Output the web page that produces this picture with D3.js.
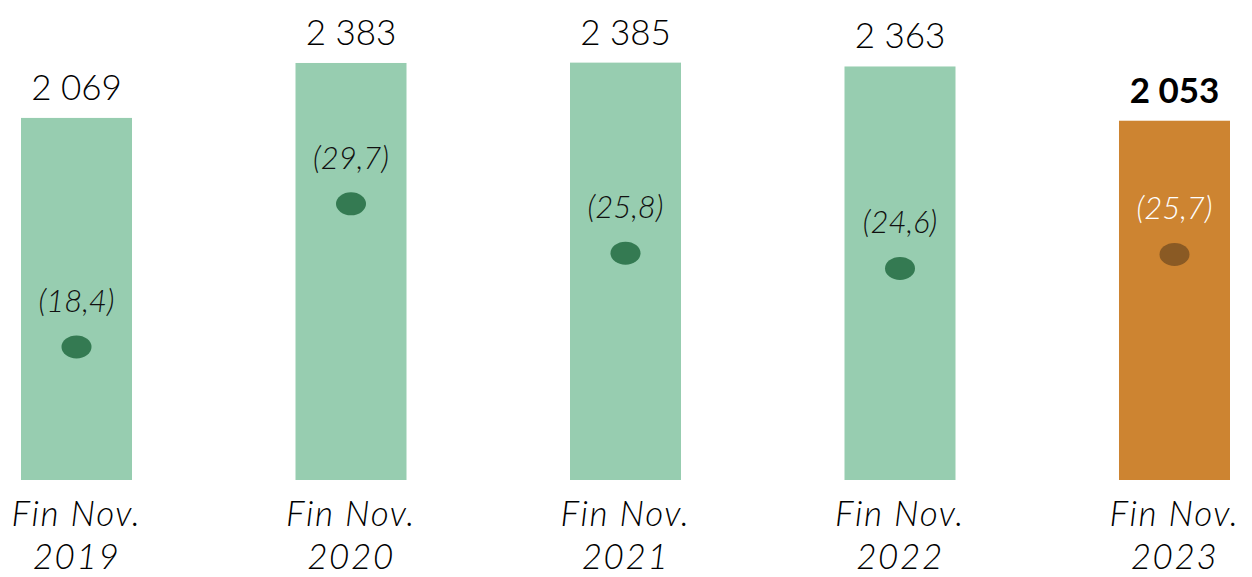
<!DOCTYPE html>
<html>
<head>
<meta charset="utf-8">
<script src="https://cdn.jsdelivr.net/npm/d3@7"></script>
<style>
  body { margin: 0; background: #fff; }
  text { font-family: "Lato", "Open Sans", sans-serif; }
</style>
</head>
<body>
<div id="chart"></div>
<script>
(function(){
    // values
    const periods = ["Fin Nov.|2019", "Fin Nov.|2020", "Fin Nov.|2021", "Fin Nov.|2022", "Fin Nov.|2023"];
    const totals = [2069, 2383, 2385, 2363, 2053];
    const ratios = [18.4, 29.7, 25.8, 24.6, 25.7];
    const totalLabels = ["2 069", "2 383", "2 385", "2 363", "2 053"];
    const ratioLabels = ["(18,4)", "(29,7)", "(25,8)", "(24,6)", "(25,7)"];

    const width = 1252, height = 577;
    const base = 480;

    const svg = d3.select("#chart").append("svg")
        .attr("width", width)
        .attr("height", height);

    // band scale for the five periods
    const x = d3.scaleBand()
        .domain(periods)
        .range([21, 1230])
        .paddingInner(0.5956)
        .paddingOuter(0);

    // bar heights
    const y = d3.scaleLinear()
        .domain([0, 2400])
        .range([base, base - 420]);

    // dots for the ratio
    const y2 = d3.scaleLinear()
        .domain([15, 30])
        .range([390, 200]);

    const last = periods.length - 1;
    const cx = d => x(d) + x.bandwidth() / 2;

    const g = svg.selectAll(".item")
        .data(periods)
        .enter().append("g")
        .attr("class", "item");

    g.append("rect")
        .attr("x", d => x(d))
        .attr("width", x.bandwidth())
        .attr("y", (d, i) => y(totals[i]))
        .attr("height", (d, i) => base - y(totals[i]))
        .attr("fill", (d, i) => i === last ? "#cd8431" : "#97cdb0");

    // value on top of the bar
    g.append("text")
        .attr("x", cx)
        .attr("y", (d, i) => y(totals[i]) - 18)
        .attr("text-anchor", "middle")
        .style("font-size", "35px")
        .style("font-weight", (d, i) => i === last ? "bold" : "300")
        .attr("fill", "#000")
        .text((d, i) => totalLabels[i]);

    // ratio dot
    g.append("ellipse")
        .attr("cx", cx)
        .attr("cy", (d, i) => y2(ratios[i]))
        .attr("rx", 15)
        .attr("ry", 11.5)
        .attr("fill", (d, i) => i === last ? "#8a5a24" : "#347a52");

    g.append("text")
        .attr("x", cx)
        .attr("y", (d, i) => y2(ratios[i]) - 35)
        .attr("text-anchor", "middle")
        .style("font-size", "31px")
        .style("font-style", "italic")
        .style("font-weight", "300")
        .attr("fill", (d, i) => i === last ? "#fff" : "#111")
        .text((d, i) => ratioLabels[i]);

    // category label, two lines
    const lab = g.append("text")
        .attr("text-anchor", "middle")
        .style("font-size", "35px")
        .style("font-style", "italic")
        .style("font-weight", "300")
        .style("letter-spacing", "1.6px")
        .attr("fill", "#000");

    lab.selectAll("tspan")
        .data(d => d.split("|").map(s => ({s: s, d: d})))
        .enter().append("tspan")
        .attr("x", t => cx(t.d))
        .attr("y", (t, j) => 526 + j * 43)
        .text(t => t.s);
})();
</script>
</body>
</html>
